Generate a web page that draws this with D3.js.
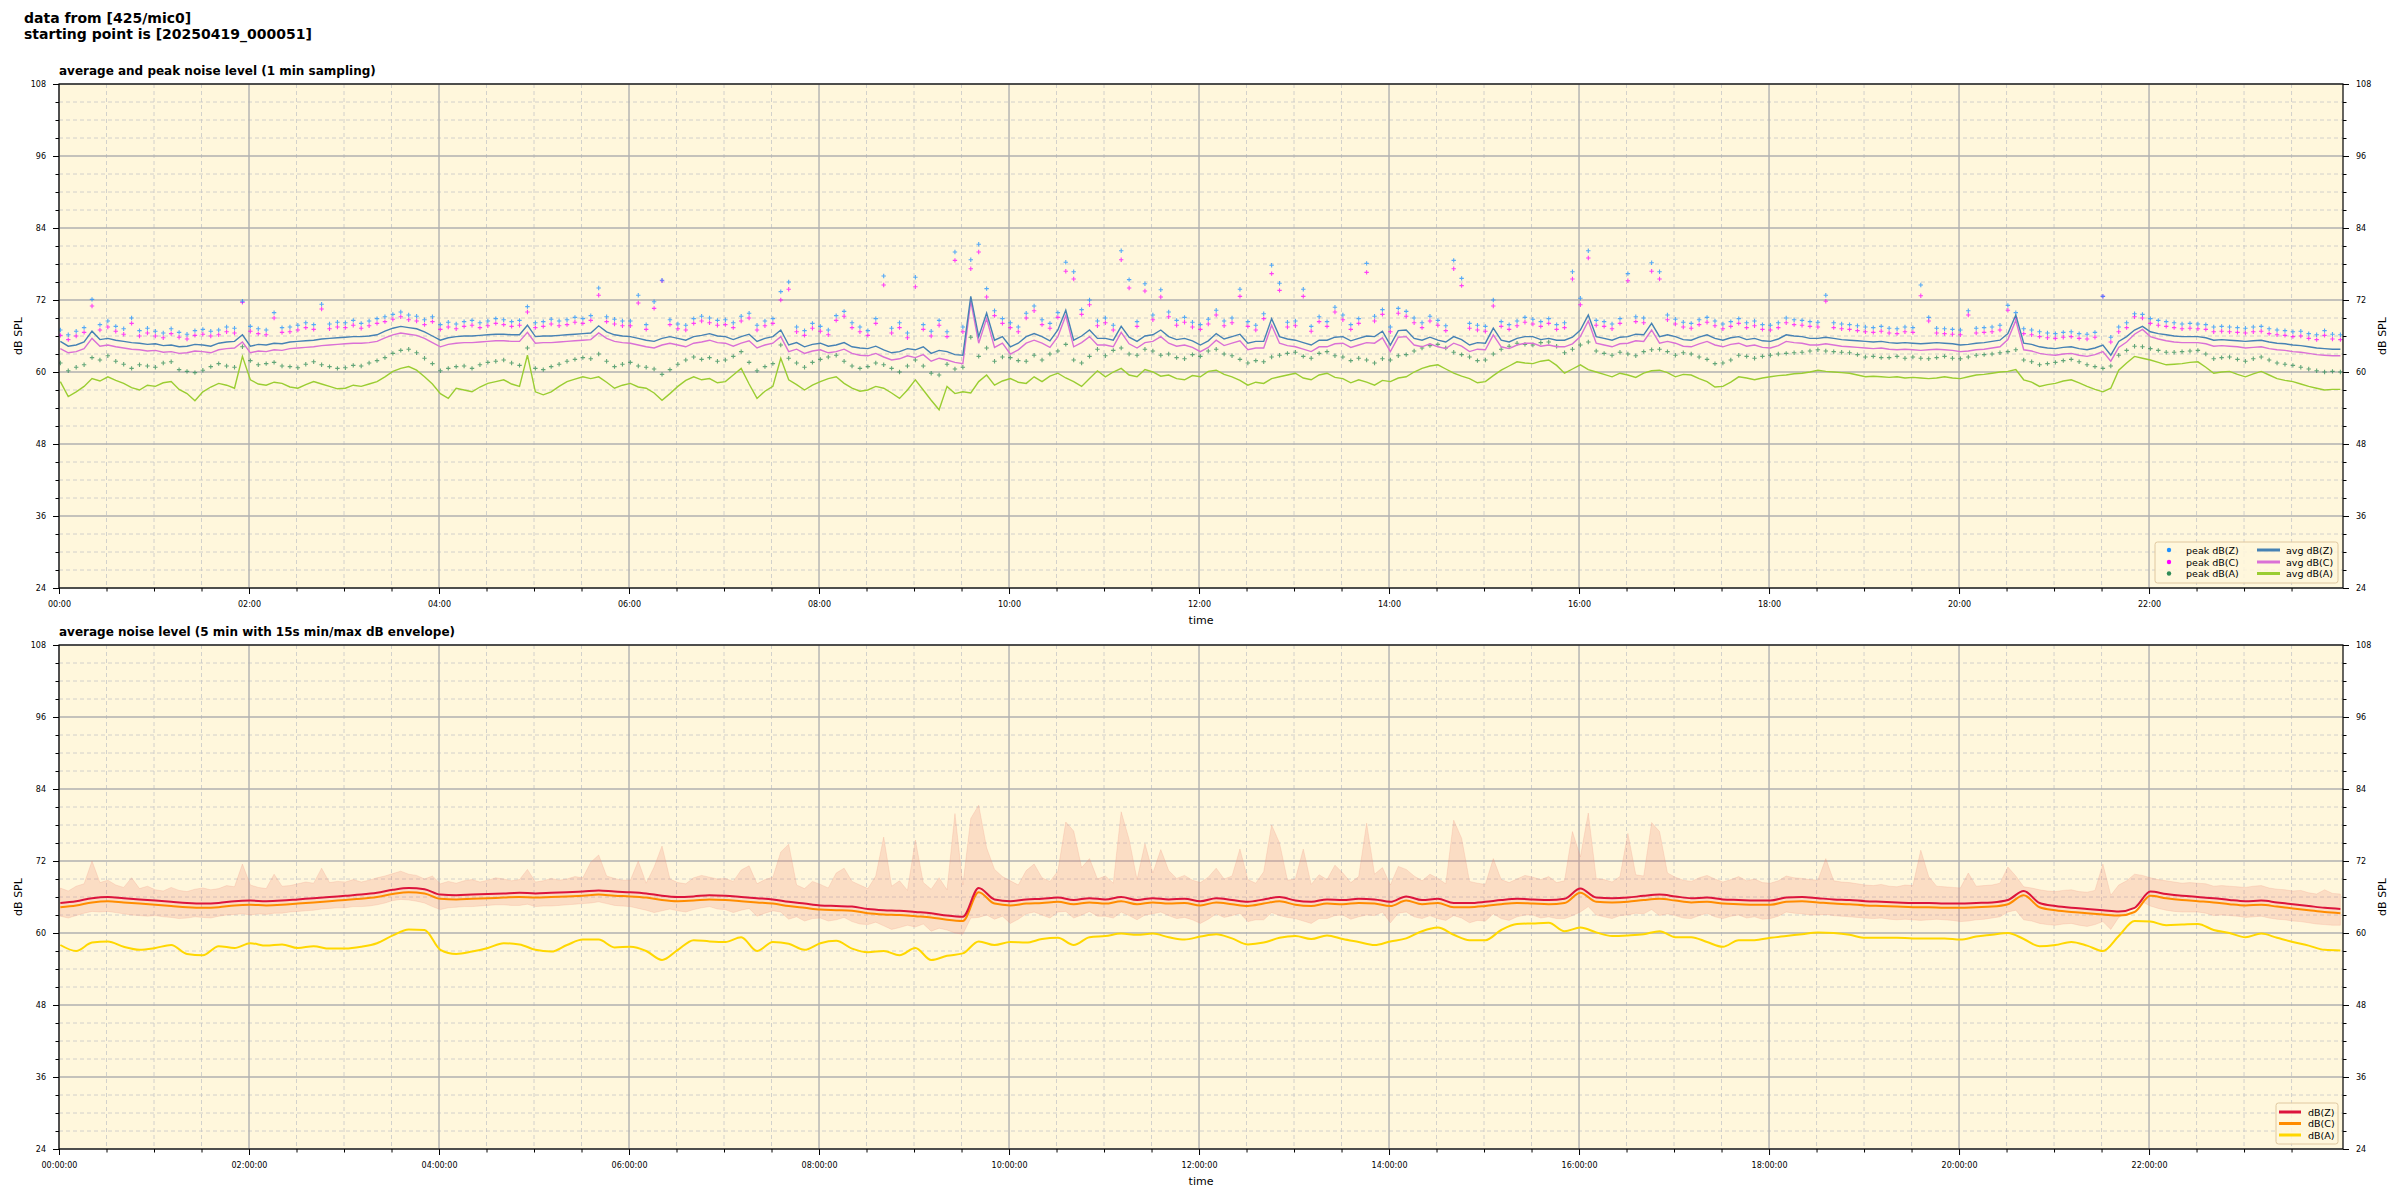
<!DOCTYPE html>
<html><head><meta charset="utf-8">
<script src="https://cdn.jsdelivr.net/npm/d3@7"></script>
<style>body{margin:0;background:#fff;} svg{display:block;font-family:"DejaVu Sans",sans-serif;}</style>
</head><body><svg id="c" width="2400" height="1200"></svg>
<script>
// ---------------- data ----------------
const titleLines = ["data from [425/mic0]", "starting point is [20250419_000051]"];
const panelTitles = ["average and peak noise level (1 min sampling)", "average noise level (5 min with 15s min/max dB envelope)"];
const yTicks = [24, 36, 48, 60, 72, 84, 96, 108];
const legendTopPeaks = ["peak dB(Z)", "peak dB(C)", "peak dB(A)"];
const legendTopAvgs = ["avg dB(Z)", "avg dB(C)", "avg dB(A)"];
const legendBottom = ["dB(Z)", "dB(C)", "dB(A)"];
const startTime = [2025, 3, 19, 0, 0, 51];
const stepTopMin = 5;   // sampling interval of the arrays below (minutes)
const stepBotMin = 10;
const stepEnvMin = 5;

const avgZ = [65.1,64.3,64.5,65.0,66.8,65.4,65.6,65.3,65.1,64.9,64.8,64.6,
64.7,64.4,64.5,64.2,64.3,64.6,64.5,64.3,64.8,65.0,65.1,66.2,
64.3,64.6,64.5,64.8,64.7,65.0,65.1,65.2,65.3,65.5,65.6,65.7,
65.8,65.9,65.9,66.0,66.2,66.8,67.3,67.6,67.4,67.2,66.7,66.0,
65.3,65.7,65.9,66.0,66.0,66.1,66.2,66.3,66.3,66.2,66.2,67.8,
65.9,66.0,66.0,66.1,66.2,66.3,66.4,66.5,67.7,66.7,66.2,66.0,
65.9,65.6,65.3,65.1,65.6,65.9,65.6,65.3,65.9,66.1,66.4,66.0,
65.9,65.4,65.9,66.3,65.1,65.6,65.9,67.0,64.5,64.9,64.2,64.6,
64.8,64.3,64.5,64.9,64.2,64.0,63.9,64.3,63.7,63.2,63.4,63.9,
63.7,64.2,63.1,63.6,63.4,62.9,62.8,72.6,65.9,69.8,65.3,65.9,
64.2,64.8,65.9,66.4,65.9,65.2,67.0,70.3,65.3,66.0,67.0,65.6,
65.6,65.3,67.6,65.8,65.1,66.0,66.2,67.0,65.9,65.4,65.6,65.2,
64.5,65.2,66.4,65.5,65.9,66.3,64.8,65.1,65.1,68.9,65.9,65.5,
65.3,64.9,64.5,65.3,65.3,65.8,65.9,65.2,65.6,66.0,65.9,66.8,
64.5,66.9,67.0,65.6,65.3,65.8,65.3,65.0,65.9,65.4,64.5,64.9,
64.8,67.3,65.3,65.0,65.6,65.9,65.9,65.4,65.6,65.3,65.3,65.8,
67.0,69.5,65.9,65.6,65.3,65.8,65.9,66.3,66.2,68.1,65.9,66.2,
65.9,65.4,65.3,65.8,66.2,65.6,65.3,65.7,65.9,65.4,65.6,65.2,
65.1,65.5,66.2,66.0,65.9,65.6,65.6,65.8,65.6,65.4,65.3,65.2,
65.1,65.0,65.1,64.9,64.8,64.9,64.8,64.7,64.8,64.9,64.8,64.7,
64.5,64.6,64.8,64.9,65.1,65.3,66.4,69.5,64.8,64.6,64.2,64.0,
63.9,64.1,64.2,63.9,63.7,64.0,64.5,62.8,65.1,65.9,67.0,67.6,
66.7,66.4,66.2,66.0,65.9,65.9,65.9,65.7,65.3,65.4,65.3,65.2,
65.1,65.2,65.3,65.0,64.8,64.7,64.5,64.4,64.2,64.0,63.9,63.8,63.8];

const avgC = [63.9,63.2,63.4,63.9,65.6,64.3,64.5,64.2,64.0,63.8,63.7,63.5,
63.6,63.3,63.4,63.1,63.2,63.5,63.4,63.2,63.7,63.9,64.0,65.0,
63.2,63.5,63.4,63.7,63.6,63.9,64.0,64.1,64.2,64.4,64.5,64.6,
64.7,64.8,64.8,64.9,65.1,65.7,66.2,66.5,66.3,66.1,65.6,64.9,
64.2,64.6,64.8,64.9,64.9,65.0,65.1,65.2,65.2,65.1,65.1,66.6,
64.8,64.9,64.9,65.0,65.1,65.2,65.3,65.4,66.5,65.6,65.1,64.9,
64.8,64.5,64.2,64.0,64.5,64.8,64.5,64.2,64.8,65.0,65.3,64.9,
64.8,64.3,64.8,65.2,64.0,64.5,64.8,65.9,63.4,63.8,63.1,63.5,
63.7,63.2,63.4,63.8,63.1,62.8,62.7,63.1,62.5,62.0,62.2,62.7,
62.4,62.9,61.8,62.3,62.0,61.6,61.4,71.8,64.8,68.9,64.1,64.8,
63.0,63.7,64.8,65.3,64.8,64.1,65.9,69.4,64.2,64.9,65.9,64.5,
64.5,64.2,66.6,64.7,64.0,64.9,65.1,65.9,64.8,64.3,64.5,64.1,
63.4,64.1,65.3,64.4,64.8,65.2,63.7,64.0,64.0,67.8,64.8,64.4,
64.2,63.8,63.4,64.2,64.2,64.7,64.8,64.1,64.5,64.9,64.8,65.7,
63.4,65.8,65.9,64.5,64.2,64.7,64.2,63.9,64.8,64.3,63.4,63.8,
63.7,66.2,64.2,63.9,64.5,64.8,64.8,64.3,64.5,64.2,64.2,64.7,
65.9,68.5,64.8,64.5,64.2,64.7,64.8,65.2,65.1,67.0,64.8,65.1,
64.8,64.3,64.2,64.7,65.1,64.5,64.2,64.6,64.8,64.3,64.5,64.1,
64.0,64.4,65.1,64.9,64.8,64.5,64.5,64.7,64.5,64.3,64.2,64.1,
64.0,63.9,64.0,63.8,63.7,63.8,63.7,63.6,63.7,63.8,63.7,63.6,
63.4,63.5,63.7,63.8,64.0,64.2,65.4,68.6,63.7,63.5,63.1,62.9,
62.8,63.0,63.1,62.8,62.6,62.9,63.4,61.8,64.1,65.0,66.3,67.1,
65.9,65.5,65.2,65.0,64.9,64.9,64.9,64.7,64.3,64.4,64.3,64.2,
64.0,64.1,64.2,63.9,63.7,63.6,63.4,63.3,63.1,62.9,62.8,62.7,62.7];

const avgA = [58.4,55.9,56.7,57.6,58.9,58.5,59.2,58.6,58.1,57.4,57.0,57.8,
57.6,58.2,58.4,57.1,56.4,55.2,56.7,57.5,58.1,57.8,57.3,62.6,
58.7,58.0,57.8,58.3,58.1,57.5,57.3,57.9,58.4,58.0,57.6,57.2,
57.3,57.8,57.6,58.0,58.4,59.2,60.1,60.6,60.9,60.3,59.2,58.0,
56.4,55.6,57.3,57.0,56.7,57.5,58.1,58.4,58.7,58.0,57.6,62.8,
56.7,56.2,56.7,57.6,58.4,58.8,59.2,58.9,59.2,58.3,57.3,57.8,
58.1,57.5,57.3,56.5,55.3,56.4,57.6,58.6,59.2,58.7,58.9,58.2,
58.4,59.5,60.6,58.0,55.6,56.8,57.6,62.3,58.7,57.9,57.0,57.8,
58.4,58.9,59.2,58.1,57.3,56.8,57.0,57.6,57.3,56.5,55.6,57.0,
58.7,57.0,55.3,53.7,57.6,56.4,56.7,56.5,58.4,59.5,57.8,58.5,
58.9,58.3,58.1,59.2,58.4,59.3,59.8,59.0,58.4,57.6,58.9,60.2,
59.2,60.0,60.6,59.5,59.2,60.4,60.0,59.3,59.5,58.9,58.7,59.4,
59.2,60.1,60.3,59.6,59.2,58.6,57.8,58.3,58.1,58.9,59.2,59.5,
59.8,59.0,58.7,59.5,59.8,59.1,58.9,58.2,58.7,58.3,57.8,58.6,
58.4,59.0,59.2,60.0,60.6,61.0,61.2,60.5,59.8,59.3,58.9,58.2,
58.4,59.4,60.3,61.0,61.7,61.5,61.4,61.8,62.0,61.1,59.8,60.5,
61.2,60.4,60.0,59.6,59.2,59.8,59.5,59.1,59.8,60.2,60.3,59.9,
59.2,59.6,59.5,58.9,58.4,57.5,57.6,58.3,59.2,59.0,58.7,59.0,
59.2,59.4,59.5,59.7,59.8,60.0,60.3,60.1,60.0,59.9,59.8,59.5,
59.2,59.3,59.2,59.1,59.2,59.0,59.1,59.0,58.9,59.0,59.2,59.0,
58.9,59.2,59.5,59.6,59.8,60.0,60.1,60.4,58.7,58.3,57.6,57.9,
58.1,58.5,58.7,58.2,57.6,57.1,56.7,57.3,60.3,61.5,62.6,62.3,
62.0,61.6,61.2,61.3,61.4,61.6,61.7,60.8,59.8,60.0,60.1,59.6,
59.2,59.7,60.1,59.5,58.9,58.6,58.4,58.0,57.6,57.3,57.0,57.1,57.1];

const peakZ = [67.0,66.2,66.8,67.4,72.1,67.9,68.5,67.6,67.2,69.0,66.9,67.3,
66.8,66.5,67.2,66.6,66.3,66.9,67.1,66.8,67.0,67.5,67.3,71.8,
67.6,67.2,67.0,69.9,67.4,67.5,67.8,68.2,67.9,71.3,68.0,68.3,
68.2,68.6,68.1,68.5,68.9,69.2,69.6,70.0,69.5,69.3,68.7,69.2,
67.9,68.3,68.0,68.4,68.6,68.2,68.5,68.9,68.7,68.4,68.6,70.9,
68.2,68.4,68.8,68.5,68.7,69.1,68.9,69.4,74.0,69.2,68.8,68.5,
68.5,72.8,67.9,71.7,75.3,68.7,68.0,67.8,68.9,69.3,69.0,68.6,
68.7,68.2,69.3,69.8,67.8,68.5,68.9,73.4,75.0,67.5,66.9,68.1,
67.6,67.0,69.4,70.1,68.2,67.5,66.9,68.9,76.0,67.3,68.2,66.5,
75.8,67.9,66.8,68.6,66.7,80.0,67.5,78.7,81.3,73.9,70.2,68.9,
68.2,67.5,69.8,71.0,68.7,68.1,69.9,78.3,76.7,70.4,72.0,68.5,
69.0,67.8,80.2,75.4,68.4,74.7,69.5,73.7,70.0,68.6,69.1,68.3,
67.9,68.8,70.3,68.5,69.0,73.8,68.4,67.8,69.7,77.8,74.8,68.3,
68.5,73.8,67.6,69.2,68.4,70.8,69.5,67.9,68.9,78.1,69.3,70.4,
67.5,70.6,70.1,69.0,68.2,69.3,68.6,67.7,78.6,75.6,68.1,67.8,
67.6,72.0,68.4,67.9,68.5,69.1,68.8,68.4,68.9,67.9,68.2,76.7,
72.3,80.2,68.6,68.4,68.0,68.9,76.4,69.2,69.0,78.2,76.7,69.5,
68.8,68.3,68.1,68.7,69.1,68.5,68.0,68.4,68.9,68.2,68.5,67.9,
67.8,68.2,69.0,68.7,68.6,68.4,68.3,72.8,68.2,68.0,67.9,67.7,
67.5,67.4,67.6,67.3,67.2,67.5,67.4,74.5,69.1,67.3,67.2,67.1,
67.0,70.2,67.3,67.4,67.5,67.8,71.1,69.9,67.2,67.0,66.7,66.5,
66.4,66.6,66.7,66.4,66.3,66.6,72.6,65.8,67.5,68.2,69.7,69.6,
68.9,68.6,68.4,68.2,68.0,68.1,68.0,67.9,67.5,67.6,67.5,67.4,
67.3,67.5,67.6,67.2,67.0,66.9,66.7,66.8,66.4,66.2,66.9,66.3,66.2];

const peakC = [66.1,65.4,66.0,66.6,71.0,67.0,67.5,66.8,66.3,68.1,66.0,66.5,
66.0,65.7,66.4,65.8,65.5,66.1,66.3,66.0,66.2,66.7,66.5,71.6,
66.8,66.4,66.2,69.0,66.6,66.7,67.0,67.4,67.1,70.5,67.2,67.5,
67.4,67.8,67.3,67.7,68.1,68.4,68.8,69.2,68.7,68.5,67.9,68.4,
67.1,67.5,67.2,67.6,67.8,67.4,67.7,68.1,67.9,67.6,67.8,70.0,
67.4,67.6,68.0,67.7,67.9,68.3,68.1,68.6,72.8,68.4,68.0,67.7,
67.7,71.5,67.1,70.6,75.2,67.9,67.2,67.0,68.1,68.5,68.2,67.8,
67.9,67.4,68.5,69.0,67.0,67.7,68.1,72.0,73.8,66.7,66.1,67.3,
66.8,66.2,68.6,69.3,67.4,66.7,66.1,68.1,74.5,66.5,67.4,65.7,
74.2,67.1,66.0,67.8,65.9,78.6,66.7,77.2,80.0,72.5,69.4,68.1,
67.4,66.7,69.0,70.2,67.9,67.3,69.1,76.8,75.5,69.6,71.2,67.7,
68.2,67.0,78.7,74.0,67.6,73.5,68.7,72.5,69.2,67.8,68.3,67.5,
67.1,68.0,69.5,67.7,68.2,72.6,67.6,67.0,68.9,76.4,73.6,67.5,
67.7,72.6,66.8,68.4,67.6,70.0,68.7,67.1,68.1,76.6,68.5,69.6,
66.7,69.8,69.3,68.2,67.4,68.5,67.8,66.9,77.2,74.4,67.3,67.0,
66.8,71.0,67.6,67.1,67.7,68.3,68.0,67.6,68.1,67.1,67.4,75.5,
71.2,79.0,67.8,67.6,67.2,68.1,75.2,68.4,68.2,76.8,75.5,68.7,
68.0,67.5,67.3,67.9,68.3,67.7,67.2,67.6,68.1,67.4,67.7,67.1,
67.0,67.4,68.2,67.9,67.8,67.6,67.5,71.8,67.4,67.2,67.1,66.9,
66.7,66.6,66.8,66.5,66.4,66.7,66.6,72.7,68.5,66.5,66.4,66.3,
66.2,69.5,66.5,66.6,66.7,67.0,70.3,69.0,66.4,66.2,65.9,65.7,
65.6,65.8,65.9,65.6,65.5,65.8,72.6,65.0,66.7,67.4,69.2,69.0,
68.1,67.8,67.6,67.4,67.2,67.3,67.2,67.1,66.7,66.8,66.7,66.6,
66.5,66.7,66.8,66.4,66.2,66.1,65.9,66.0,65.6,65.4,66.1,65.5,65.4];

const peakA = [61.5,60.2,60.8,61.2,62.4,62.0,62.7,61.8,61.3,60.6,61.2,61.0,
60.8,61.5,61.7,60.4,60.1,59.9,60.3,60.9,61.4,61.0,60.8,64.2,
61.9,61.2,61.4,61.6,61.0,60.9,60.7,61.3,61.7,61.2,60.9,60.6,
60.7,61.1,61.0,61.5,61.9,62.4,63.1,63.6,63.8,63.2,62.3,61.4,
60.2,60.6,60.9,61.0,60.6,61.2,61.6,61.8,62.0,61.5,61.1,64.0,
60.6,60.4,60.9,61.3,61.8,62.1,62.4,62.2,63.0,61.8,60.9,61.3,
61.6,61.0,60.8,60.5,59.6,60.4,61.3,62.0,62.5,62.1,62.4,61.8,
62.0,62.6,63.4,61.6,60.2,60.9,61.4,64.5,62.3,61.5,60.8,61.6,
62.1,62.5,62.8,61.8,61.0,60.6,60.9,61.5,61.2,60.6,60.0,61.0,
62.0,61.0,59.8,59.5,61.3,60.5,60.8,65.8,62.6,64.0,61.8,62.5,
62.4,61.9,61.8,62.8,62.0,63.0,63.5,64.6,62.0,61.5,62.6,63.8,
62.7,63.6,64.0,63.0,62.8,63.8,63.5,62.8,63.0,62.4,62.2,62.9,
62.6,63.5,63.8,63.0,62.7,62.1,61.5,61.9,61.7,62.5,62.8,63.1,
63.3,62.6,62.3,63.1,63.4,62.7,62.5,61.9,62.3,62.0,61.5,62.2,
62.0,62.7,62.9,63.5,64.0,64.4,64.6,64.0,63.3,62.9,62.5,61.9,
62.0,63.0,63.8,64.3,64.8,64.6,64.5,64.9,65.0,64.3,63.2,63.8,
64.5,65.0,63.5,63.1,62.8,63.3,63.0,62.7,63.4,63.7,63.8,63.4,
62.8,63.2,63.0,62.5,62.1,61.4,61.5,62.0,62.8,62.6,62.3,62.6,
62.8,63.0,63.1,63.2,63.3,63.5,63.7,63.5,63.4,63.3,63.2,62.9,
62.5,62.6,62.4,62.4,62.6,62.3,62.5,62.3,62.2,62.4,62.6,62.3,
62.2,62.5,62.8,62.9,63.0,63.2,63.4,63.7,62.0,61.7,61.2,61.4,
61.6,61.9,62.1,61.7,61.2,60.9,60.6,61.0,62.8,63.6,64.3,64.2,
63.9,63.6,63.3,63.3,63.4,63.5,63.6,63.0,62.2,62.4,62.5,62.1,
61.8,62.2,62.5,62.0,61.5,61.3,61.1,60.8,60.5,60.2,60.0,60.1,60.0];

const botZ = [65.0,65.3,65.8,66.0,65.8,65.6, 65.4,65.2,65.0,64.9,65.0,65.3,
65.4,65.3,65.4,65.6,65.8,66.0, 66.2,66.4,66.7,67.2,67.5,67.3,
66.4,66.3,66.4,66.5,66.6,66.7, 66.6,66.7,66.8,66.9,67.1,66.9,
66.8,66.6,66.2,66.0,66.1,66.3, 66.2,66.0,65.8,65.6,65.2,64.9,
64.6,64.5,64.4,64.0,63.8,63.7, 63.5,63.3,62.9,62.7,67.5,65.6,
65.3,65.6,65.7,65.9,65.5,65.8, 65.6,66.0,65.5,65.8,65.6,65.7,
65.3,65.8,65.5,65.2,65.6,66.0, 65.4,65.2,65.6,65.5,65.7,65.6,
65.2,66.1,65.5,65.7,65.0,65.0, 65.2,65.5,65.7,65.6,65.5,65.7,
67.4,65.9,65.8,65.9,66.2,66.4, 66.1,65.8,65.9,65.6,65.5,65.4,
65.4,65.9,66.0,65.8,65.6,65.5, 65.3,65.2,65.1,65.0,65.0,64.9,
64.9,65.0,65.1,65.5,67.0,65.0, 64.5,64.2,64.0,63.8,63.6,64.2,
66.9,66.5,66.2,66.0,65.8,65.5, 65.3,65.4,65.1,64.8,64.5,64.2,64.0];

const botC = [64.3,64.6,65.1,65.3,65.1,64.9, 64.7,64.5,64.3,64.2,64.3,64.6,
64.7,64.6,64.7,64.9,65.1,65.3, 65.5,65.7,66.0,66.5,66.8,66.6,
65.7,65.6,65.7,65.8,65.9,66.0, 65.9,66.0,66.1,66.2,66.4,66.2,
66.1,65.9,65.5,65.3,65.4,65.6, 65.5,65.3,65.1,64.9,64.5,64.2,
63.9,63.8,63.7,63.3,63.1,63.0, 62.8,62.6,62.2,62.0,66.8,64.9,
64.6,64.9,65.0,65.2,64.8,65.1, 64.9,65.3,64.8,65.1,64.9,65.0,
64.6,65.1,64.8,64.5,64.9,65.3, 64.7,64.5,64.9,64.8,65.0,64.9,
64.5,65.4,64.8,65.0,64.3,64.3, 64.5,64.8,65.0,64.9,64.8,65.0,
66.7,65.2,65.1,65.2,65.5,65.7, 65.4,65.1,65.2,64.9,64.8,64.7,
64.7,65.2,65.3,65.1,64.9,64.8, 64.6,64.5,64.4,64.3,64.3,64.2,
64.2,64.3,64.4,64.8,66.3,64.3, 63.8,63.5,63.3,63.1,62.9,63.5,
66.2,65.8,65.5,65.3,65.1,64.8, 64.6,64.7,64.4,64.1,63.8,63.5,63.3];

const botA = [58.0,57.0,58.4,58.6,57.7,57.2, 57.5,58.0,56.5,56.3,57.8,57.5,
58.3,57.9,58.1,57.5,57.8,57.4, 57.4,57.7,58.3,59.6,60.6,60.5,
57.2,56.5,56.9,57.5,58.3,58.1, 57.2,56.9,58.0,58.9,58.9,57.6,
57.7,57.0,55.5,57.2,58.8,58.6, 58.5,59.3,57.0,58.5,58.2,57.2,
58.3,58.7,57.4,56.8,57.0,56.3, 57.5,55.5,56.2,56.6,58.6,58.0,
58.5,58.4,59.0,59.2,58.0,59.3, 59.5,59.9,59.7,59.9,59.3,58.9,
59.4,59.8,59.1,58.1,58.4,59.2, 59.5,59.0,59.6,59.0,58.5,58.0,
58.6,59.1,60.3,60.9,59.7,58.8, 58.8,60.5,61.5,61.6,61.7,60.3,
60.9,60.1,59.5,59.6,59.8,60.3, 59.3,59.3,58.5,57.7,58.8,58.8,
59.2,59.5,59.8,60.1,60.0,59.7, 59.2,59.2,59.2,59.1,59.1,59.1,
58.9,59.4,59.7,60.0,59.0,57.8, 58.0,58.5,57.9,57.0,59.5,62.0,
61.9,61.3,61.4,61.5,60.5,60.0, 59.3,59.9,59.2,58.5,57.9,57.2,57.1];

const envMax = [67.5,67.0,67.8,68.2,72.0,68.4,68.8,68.0,67.6,69.2,67.4,67.8,
67.2,67.0,67.6,67.1,66.9,67.3,67.5,67.2,67.4,67.9,67.7,71.5,
68.0,67.6,67.4,69.8,67.8,67.9,68.2,68.5,68.3,70.8,68.4,68.6,
68.5,68.9,68.5,68.8,69.2,69.5,69.9,70.3,69.8,69.6,69.0,69.5,
68.2,68.6,68.3,68.7,68.9,68.5,68.8,69.2,69.0,68.7,68.9,70.6,
68.5,68.7,69.1,68.8,69.0,69.4,69.2,71.8,73.0,69.5,69.1,68.8,
68.8,72.0,68.3,71.0,74.5,69.0,68.4,68.2,69.2,69.6,69.3,69.0,
69.1,68.6,70.5,71.2,68.2,68.9,69.3,73.5,74.8,68.0,67.4,68.6,
68.1,67.5,70.0,70.8,68.6,68.0,67.4,69.5,76.0,67.8,68.7,67.1,
75.5,68.4,67.3,69.2,67.2,79.9,68.0,79.1,81.3,74.2,70.6,69.4,
68.7,68.0,70.4,71.5,69.2,68.6,70.3,78.5,77.0,70.9,72.4,69.0,
69.5,68.3,80.2,75.6,68.9,74.9,70.0,73.9,70.4,69.1,69.6,68.8,
68.4,69.3,70.8,69.0,69.5,74.0,68.9,68.3,70.2,78.0,75.0,68.8,
69.0,74.0,68.1,69.7,68.9,71.3,70.0,68.4,69.4,78.3,69.8,70.9,
68.0,71.1,70.6,69.5,68.7,69.8,69.1,68.2,78.8,75.8,68.6,68.3,
68.1,72.4,68.9,68.4,69.0,69.6,69.3,68.9,69.4,68.4,68.7,76.9,
72.7,80.0,69.1,68.9,68.5,69.4,76.6,69.7,69.5,78.4,76.9,70.0,
69.3,68.8,68.6,69.2,69.6,69.0,68.5,68.9,69.4,68.7,69.0,68.4,
68.3,68.7,69.5,69.2,69.1,68.9,68.8,72.4,68.7,68.5,68.4,68.2,
68.0,67.9,68.1,67.8,67.7,68.0,67.9,73.8,69.4,67.8,67.7,67.6,
67.5,70.0,67.8,67.9,68.0,68.3,71.0,69.5,67.7,67.5,67.2,67.0,
66.9,67.1,67.2,66.9,66.8,67.1,71.5,66.3,68.0,68.7,69.8,69.6,
69.2,68.9,68.7,68.5,68.3,68.4,68.3,68.2,67.8,67.9,67.8,67.7,
67.6,67.8,67.9,67.5,67.3,67.2,67.0,67.1,66.7,66.5,67.2,66.6,66.5];

const envMin = [62.8,62.5,62.9,63.3,63.6,63.5,63.6,63.4,63.2,63.0,62.9,62.8,
62.9,62.7,62.6,62.4,62.5,62.7,62.6,62.5,62.8,63.0,63.1,63.2,
63.0,63.2,63.1,63.3,63.3,63.5,63.6,63.7,63.8,64.0,64.1,64.2,
64.2,64.4,64.4,64.5,64.7,65.0,65.4,65.6,65.5,65.3,65.0,64.4,
63.9,64.2,64.3,64.4,64.4,64.5,64.6,64.7,64.7,64.6,64.6,64.8,
64.4,64.5,64.5,64.6,64.7,64.8,64.9,65.0,65.2,64.9,64.6,64.5,
64.4,64.1,63.8,63.4,63.7,64.0,63.7,63.5,63.9,64.2,64.4,64.0,
63.9,63.4,63.8,64.1,62.8,63.3,63.7,63.5,62.3,62.7,62.0,62.4,
62.5,62.0,62.2,62.6,61.9,61.5,61.4,61.8,61.2,60.6,60.9,61.3,
61.0,61.5,60.3,60.8,60.5,60.0,59.8,62.5,62.6,63.0,62.3,62.8,
61.6,62.3,63.2,63.5,63.0,62.5,63.5,63.6,62.5,63.0,63.6,62.8,
62.8,62.5,63.5,62.9,62.2,63.0,63.2,63.5,62.9,62.4,62.6,62.2,
61.6,62.3,63.2,62.6,62.9,63.3,61.9,62.2,62.2,63.4,62.9,62.6,
62.4,62.0,61.6,62.4,62.4,62.9,63.0,62.3,62.7,63.0,62.9,63.5,
61.7,63.3,63.5,62.7,62.4,62.9,62.4,62.1,62.9,62.5,61.7,62.1,
62.0,63.2,62.4,62.1,62.7,63.0,63.0,62.5,62.7,62.4,62.4,62.9,
63.5,64.4,63.0,62.7,62.4,62.9,63.0,63.3,63.2,63.9,62.9,63.2,
62.9,62.5,62.4,62.9,63.3,62.7,62.4,62.8,63.0,62.5,62.7,62.3,
62.4,62.8,63.5,63.3,63.2,63.0,63.0,63.1,62.9,62.8,62.7,62.6,
62.5,62.4,62.5,62.3,62.2,62.3,62.2,62.1,62.2,62.3,62.2,62.1,
61.9,62.0,62.2,62.3,62.5,62.7,63.5,63.8,62.2,62.0,61.6,61.4,
61.3,61.5,61.6,61.3,61.1,61.4,61.9,60.6,62.6,63.4,64.6,65.2,
64.5,64.1,63.8,63.6,63.5,63.5,63.5,63.3,62.9,63.0,62.9,62.8,
62.6,62.7,62.8,62.5,62.3,62.2,62.0,61.9,61.7,61.5,61.4,61.3,61.3];

// ---------------- drawing ----------------
const COL = {
  bg: "#fff7dc", major: "#b0b0b0", minor: "#c6c6c6",
  peakZ: "#1e90ff", peakC: "#ff00ff", peakA: "#2e8b57",
  avgZ: "#4682b4", avgC: "#da70d6", avgA: "#9acd32",
  bZ: "#dc143c", bC: "#ff8c00", bA: "#ffd700", env: "#f08c78"
};
const svg = d3.select("#c");
const L = 59, R = 2343;
const t0 = new Date(startTime[0], startTime[1], startTime[2], startTime[3], startTime[4], startTime[5]);
const tAt = (i, step) => new Date(t0.getTime() + i * step * 60000);
const dayEnd = new Date(2025, 3, 20, 0, 0, 0);
const x = d3.scaleTime()
  .domain([new Date(2025, 3, 19, 0, 0, 0), new Date(2025, 3, 20, 0, 2, 30)])
  .range([L, R]);

svg.append("text").attr("x", 24).attr("y", 23).attr("font-size", 14).attr("font-weight", "bold").text(titleLines[0]);
svg.append("text").attr("x", 24).attr("y", 39).attr("font-size", 14).attr("font-weight", "bold").text(titleLines[1]);

function panel(idx, top, bottom, fmt) {
  const y = d3.scaleLinear().domain([24, 108]).range([bottom, top]);
  const g = svg.append("g");
  const clipId = "clip" + idx;
  svg.append("clipPath").attr("id", clipId).append("rect")
    .attr("x", L).attr("y", top).attr("width", R - L).attr("height", bottom - top);
  g.append("rect").attr("x", L).attr("y", top).attr("width", R - L).attr("height", bottom - top).attr("fill", COL.bg);
  // grids
  const yMinor = d3.range(24, 109, 3).filter(v => v % 12 !== 0);
  const xAll = x.ticks(d3.timeMinute.every(30)).filter(d => d < dayEnd);
  const xMinor = xAll.filter(d => !(d.getMinutes() === 0 && d.getHours() % 2 === 0));
  const xMajor = xAll.filter(d => d.getMinutes() === 0 && d.getHours() % 2 === 0);
  g.selectAll(null).data(yMinor).join("line")
    .attr("x1", L).attr("x2", R).attr("y1", d => y(d)).attr("y2", d => y(d))
    .attr("stroke", COL.minor).attr("stroke-width", 0.8).attr("stroke-dasharray", "4,3");
  g.selectAll(null).data(xMinor).join("line")
    .attr("y1", top).attr("y2", bottom).attr("x1", d => x(d)).attr("x2", d => x(d))
    .attr("stroke", COL.minor).attr("stroke-width", 0.8).attr("stroke-dasharray", "4,3");
  g.selectAll(null).data(yTicks).join("line")
    .attr("x1", L).attr("x2", R).attr("y1", d => y(d)).attr("y2", d => y(d))
    .attr("stroke", COL.major).attr("stroke-width", 1.4);
  g.selectAll(null).data(xMajor).join("line")
    .attr("y1", top).attr("y2", bottom).attr("x1", d => x(d)).attr("x2", d => x(d))
    .attr("stroke", COL.major).attr("stroke-width", 1.4);
  const data = g.append("g").attr("clip-path", `url(#${clipId})`);
  // axes
  const styleAxis = (sel) => { sel.select(".domain").remove(); sel.attr("font-family", "DejaVu Sans").attr("font-size", 8); sel.selectAll("text").attr("fill", "#000"); sel.selectAll("line").attr("stroke", "#000"); };
  svg.append("g").attr("transform", `translate(${L},0)`)
    .call(d3.axisLeft(y).tickValues(yMinor).tickSize(3.5).tickFormat("")).call(styleAxis);
  svg.append("g").attr("transform", `translate(${L},0)`)
    .call(d3.axisLeft(y).tickValues(yTicks).tickSize(6).tickPadding(7)).call(styleAxis);
  svg.append("g").attr("transform", `translate(${R},0)`)
    .call(d3.axisRight(y).tickValues(yMinor).tickSize(3.5).tickFormat("")).call(styleAxis);
  svg.append("g").attr("transform", `translate(${R},0)`)
    .call(d3.axisRight(y).tickValues(yTicks).tickSize(6).tickPadding(7)).call(styleAxis);
  svg.append("g").attr("transform", `translate(0,${bottom})`)
    .call(d3.axisBottom(x).tickValues(xMinor).tickSize(3.5).tickFormat("")).call(styleAxis);
  svg.append("g").attr("transform", `translate(0,${bottom})`)
    .call(d3.axisBottom(x).tickValues(xMajor).tickSize(6).tickPadding(7.5).tickFormat(d3.timeFormat(fmt))).call(styleAxis);
  svg.append("rect").attr("x", L).attr("y", top).attr("width", R - L).attr("height", bottom - top)
    .attr("fill", "none").attr("stroke", "#000").attr("stroke-width", 1.2);
  // labels
  svg.append("text").attr("x", L).attr("y", top - 9).attr("font-size", 12).attr("font-weight", "bold").text(panelTitles[idx]);
  svg.append("text").attr("x", (L + R) / 2).attr("y", bottom + 36).attr("text-anchor", "middle").attr("font-size", 11).text("time");
  const mid = (top + bottom) / 2;
  svg.append("text").attr("transform", `translate(22,${mid}) rotate(-90)`).attr("text-anchor", "middle").attr("font-size", 11).text("dB SPL");
  svg.append("text").attr("transform", `translate(2386,${mid}) rotate(-90)`).attr("text-anchor", "middle").attr("font-size", 11).text("dB SPL");
  return { y, data };
}

// ---- top panel ----
{
  const { y, data } = panel(0, 84, 588, "%H:%M");
  const plus = "M-2.2,0H2.2M0,-2.2V2.2";
  [[peakA, COL.peakA], [peakC, COL.peakC], [peakZ, COL.peakZ]].forEach(([arr, c]) => {
    data.append("g").selectAll("path").data(arr).join("path")
      .attr("d", plus)
      .attr("transform", (v, i) => `translate(${x(tAt(i, stepTopMin))},${y(v)})`)
      .attr("stroke", c).attr("stroke-width", 1.1).attr("opacity", 0.75).attr("fill", "none");
  });
  [[avgA, COL.avgA], [avgC, COL.avgC], [avgZ, COL.avgZ]].forEach(([arr, c]) => {
    data.append("path").datum(arr)
      .attr("d", d3.line().x((v, i) => x(tAt(i, stepTopMin))).y(v => y(v)))
      .attr("fill", "none").attr("stroke", c).attr("stroke-width", 1.4);
  });
  // legend
  const lg = svg.append("g");
  lg.append("rect").attr("x", 2155).attr("y", 542).attr("width", 183).attr("height", 41).attr("rx", 2.5)
    .attr("fill", "#fff7dc").attr("fill-opacity", 0.85).attr("stroke", "#e0c8a0").attr("stroke-width", 1);
  const rows = [550, 562, 573.5];
  [COL.peakZ, COL.peakC, COL.peakA].forEach((c, i) => {
    lg.append("circle").attr("cx", 2169).attr("cy", rows[i]).attr("r", 2.2).attr("fill", c);
    lg.append("text").attr("x", 2186).attr("y", rows[i] + 3.5).attr("font-size", 9.5).text(legendTopPeaks[i]);
  });
  [COL.avgZ, COL.avgC, COL.avgA].forEach((c, i) => {
    lg.append("line").attr("x1", 2257).attr("x2", 2280).attr("y1", rows[i]).attr("y2", rows[i]).attr("stroke", c).attr("stroke-width", 3);
    lg.append("text").attr("x", 2286).attr("y", rows[i] + 3.5).attr("font-size", 9.5).text(legendTopAvgs[i]);
  });
}

// ---- bottom panel ----
{
  const { y, data } = panel(1, 645, 1149, "%H:%M:%S");
  data.append("path").datum(envMax)
    .attr("d", d3.area().x((v, i) => x(tAt(i, stepEnvMin))).y0((v, i) => y(envMin[i])).y1(v => y(v)))
    .attr("fill", COL.env).attr("fill-opacity", 0.24).attr("stroke", COL.env).attr("stroke-opacity", 0.25).attr("stroke-width", 0.8);
  [[botA, COL.bA], [botC, COL.bC], [botZ, COL.bZ]].forEach(([arr, c]) => {
    data.append("path").datum(arr)
      .attr("d", d3.line().curve(d3.curveMonotoneX).x((v, i) => x(tAt(i, stepBotMin))).y(v => y(v)))
      .attr("fill", "none").attr("stroke", c).attr("stroke-width", 2);
  });
  const lg = svg.append("g");
  lg.append("rect").attr("x", 2276).attr("y", 1103).attr("width", 62).attr("height", 41).attr("rx", 2.5)
    .attr("fill", "#fff7dc").attr("fill-opacity", 0.85).attr("stroke", "#e0c8a0").attr("stroke-width", 1);
  const rows = [1112, 1123.5, 1135];
  [COL.bZ, COL.bC, COL.bA].forEach((c, i) => {
    lg.append("line").attr("x1", 2279).attr("x2", 2301).attr("y1", rows[i]).attr("y2", rows[i]).attr("stroke", c).attr("stroke-width", 3);
    lg.append("text").attr("x", 2308).attr("y", rows[i] + 3.5).attr("font-size", 9.5).text(legendBottom[i]);
  });
}
</script></body></html>
